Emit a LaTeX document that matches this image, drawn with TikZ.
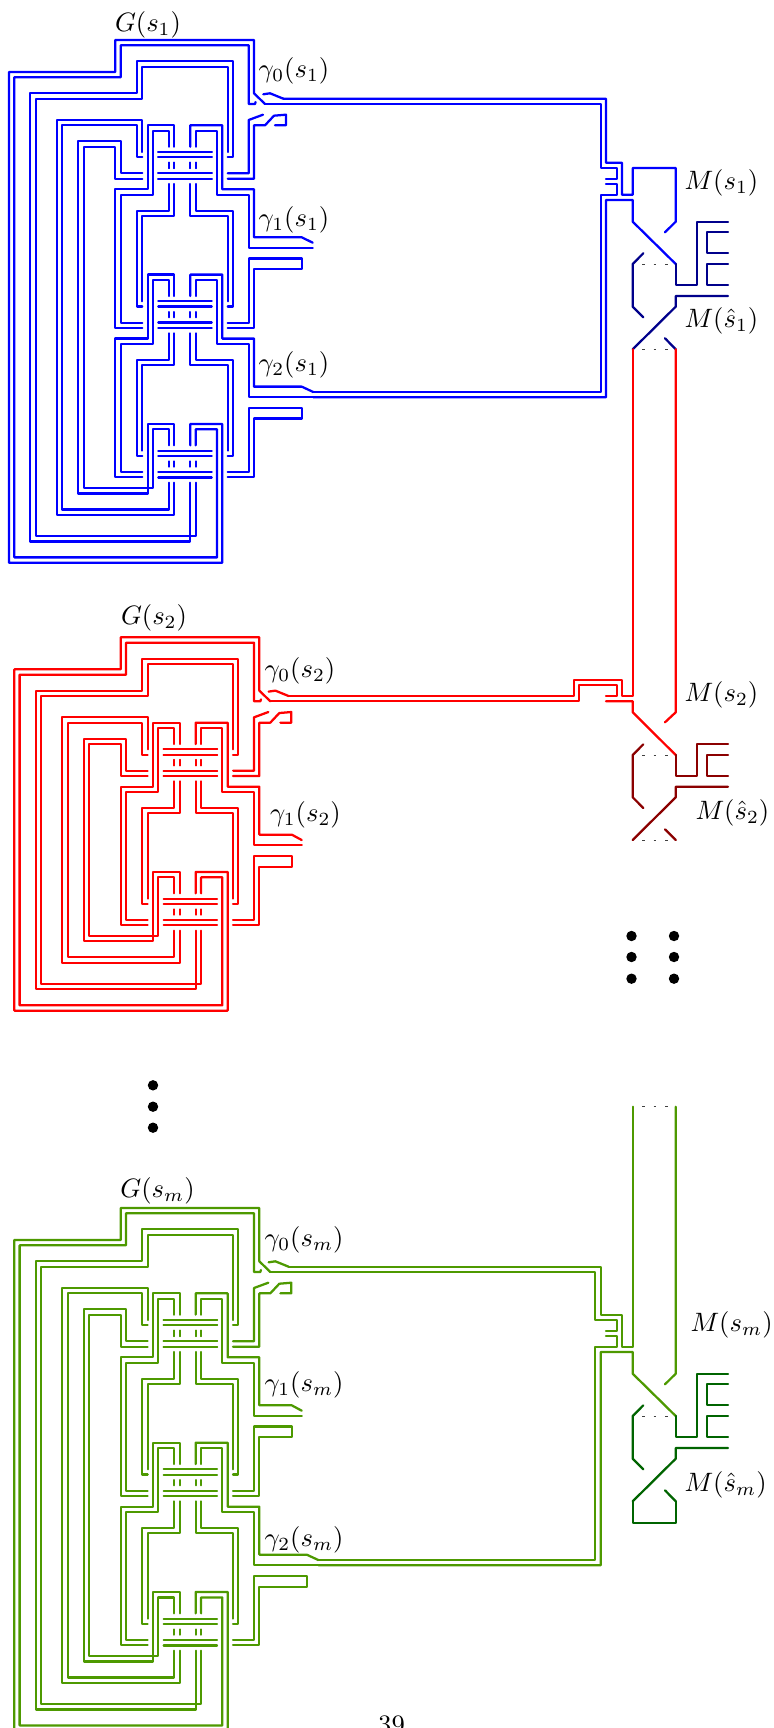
\documentclass[tikz,border=0pt]{standalone}
\definecolor{wblue}{RGB}{0,0,255}
\definecolor{wnavy}{RGB}{0,0,139}
\definecolor{wred}{RGB}{255,0,0}
\definecolor{wdred}{RGB}{139,0,0}
\definecolor{wgreen}{RGB}{77,153,0}
\definecolor{wdgreen}{RGB}{0,100,0}
\tikzset{
  wire/.style={line width=0.85pt,line join=round,line cap=round},
  wireblue/.style={wire,color=wblue},
  wirenavy/.style={wire,color=wnavy},
  wirered/.style={wire,color=wred},
  wiredred/.style={wire,color=wdred},
  wiregreen/.style={wire,color=wgreen},
  wiredgreen/.style={wire,color=wdgreen},
  dotline/.style={line width=0.3pt,color=black!75,line cap=butt,dash pattern=on 1pt off 3.4pt},
  lab/.style={anchor=west,inner sep=0pt,text=black},
  labc/.style={anchor=center,inner sep=0pt,text=black},
}
% crossbars and short dashes of one gadget
\newcommand{\cellbars}{
  \draw (158.3,152)--(211.7,152);
  \draw (158.3,157.3)--(211.7,157.3);
  \draw (158.3,173.3)--(211.7,173.3);
  \draw (158.3,178.7)--(211.7,178.7);
  \draw (169,162.7)--(169,168);
  \draw (174.3,162.7)--(174.3,168);
  \draw (190.3,162.7)--(190.3,168);
  \draw (195.7,162.7)--(195.7,168);
}
% wires from one gadget to the next; #1 kink x, #2 end x, #3 hook x
\newcommand{\cellLink}[3]{
  \cellbars
  \draw (174.3,146.7)--(174.3,125.3)--(147.7,125.3)--(147.7,189.3)--(115.3,189.3)--(115.3,328)--(142.3,328);
  \draw (169,146.7)--(169,130.7)--(153,130.7)--(153,194.7)--(120.7,194.7)--(120.7,322.7)--(142.3,322.7);
  \draw (190.3,146.7)--(190.3,125.3)--(222.3,125.3)--(222.3,189.3)--(254,189.3)--(254,237.3)--(#1,237.3)--(#2,242.7);
  \draw (195.7,146.7)--(195.7,130.7)--(217,130.7)--(217,194.7)--(248.7,194.7)--(248.7,248)--(#2,248);
  \draw (169,184)--(169,210.7)--(137,210.7)--(137,306.6)--(142.3,306.6);
  \draw (174.3,184)--(174.3,216)--(142.3,216)--(142.3,301.3);
  \draw (190.3,184)--(190.3,216)--(227.7,216)--(227.7,301.3);
  \draw (195.7,184)--(195.7,210.7)--(233,210.7)--(233,306.6)--(227.7,306.6);
  \draw (227.7,322.7)--(248.7,322.7)--(248.7,258.5)--(#3,258.5)--(#3,269.3)--(254,269.3)--(254,328)--(227.7,328);
}
% outer frames: #1 offset of the last gadget
\newcommand{\cellFrames}[1]{
  \cellbars
  \draw (174.3,146.7+#1)--(174.3,125.3+#1)--(147.7,125.3+#1)--(147.7,194.7+#1)--(78.3,194.7+#1)--(78.3,141.3)--(120.7,141.3)--(120.7,173.3)--(142.3,173.3);
  \draw (169,146.7+#1)--(169,130.7+#1)--(153,130.7+#1)--(153,189.3+#1)--(83.7,189.3+#1)--(83.7,146.7)--(115.3,146.7)--(115.3,178.7)--(142.3,178.7);
  \draw (169,184+#1)--(169,210.7+#1)--(62.3,210.7+#1)--(62.3,125.3)--(137,125.3)--(137,157.3)--(142.3,157.3);
  \draw (174.3,184+#1)--(174.3,216+#1)--(57,216+#1)--(57,120)--(142.3,120)--(142.3,152);
  \draw (190.3,184+#1)--(190.3,242.7+#1)--(30.3,242.7+#1)--(30.3,93.3)--(137,93.3)--(137,61.3)--(233,61.3)--(233,157.3)--(227.7,157.3);
  \draw (195.7,184+#1)--(195.7,237.3+#1)--(35.7,237.3+#1)--(35.7,98.7)--(142.3,98.7)--(142.3,66.7)--(227.7,66.7)--(227.7,152);
  \draw (190.3,146.7+#1)--(190.3,125.3+#1)--(222.3,125.3+#1)--(222.3,264+#1)--(9,264+#1)--(9,72)--(115.3,72)--(115.3,40)--(254,40)--(254,93.3)--(265,104);
  \draw (195.7,146.7+#1)--(195.7,130.7+#1)--(217,130.7+#1)--(217,258.7+#1)--(14.3,258.7+#1)--(14.3,77.3)--(120.7,77.3)--(120.7,45.3)--(248.7,45.3)--(248.7,104)--(255,104)--(255.6,102);
  \draw (263.3,94.3)--(270,93.3)--(283.3,98.7);
  \draw (227.7,173.3)--(248.7,173.3)--(248.7,120)--(263,114.7);
  \draw (227.7,178.7)--(254,178.7)--(254,125.3)--(265,125.3)--(274,115.7)--(286,114.7)--(286,125.3)--(275,125.3);
}
% comb of the hatted block
\newcommand{\hatblock}{
  \draw (675.7,264)--(675.7,285)--(696.7,285)--(696.7,221.7)--(728,221.7);
  \draw (728,232.3)--(707.3,232.3)--(707.3,253.3)--(728,253.3);
  \draw (728,264)--(707.3,264)--(707.3,285)--(728,285);
  \draw (728,296)--(675.7,296)--(675.7,306.7)--(632.7,349.3);
  \draw (643.3,253.3)--(632.7,264)--(632.7,306.7)--(643.3,317.3);
  \draw (665,338.3)--(675.7,349.3);
}
\begin{document}
\begin{tikzpicture}[x=0.376pt,y=-0.376pt]
\useasboundingbox (0,0) rectangle (774,1728);
\clip (0,0) rectangle (774,1728);
\fill[white] (0,0) rectangle (774,1728);

% ---------- blue set
\begin{scope}[wireblue]
  \begin{scope}\cellLink{301.7}{312.7}{302.3}\end{scope}
  \begin{scope}[shift={(0,149.33)}]\cellLink{301.7}{313.3}{302}\end{scope}
  \begin{scope}[shift={(0,298.67)}]\cellbars\end{scope}
  \cellFrames{298.67}
  \draw (283.3,98.7)--(606,98.7)--(606,162.7)--(622,162.7)--(622,194.7)--(632.7,194.7)--(632.7,168)--(675.7,168)--(675.7,221.7)--(665,232.3);
  \draw (265,104)--(600.7,104)--(600.7,168)--(617.3,168)--(617.3,178.7)--(606,178.7);
  \draw (313.3,392)--(600.7,392)--(600.7,194.7)--(617.3,194.7)--(617.3,184)--(606,184);
  \draw (313.3,397.3)--(606,397.3)--(606,200)--(632.7,200)--(632.7,221.7)--(675.7,264);
\end{scope}
\begin{scope}[wirenavy]\hatblock\end{scope}
\draw[dotline] (642,264)--(672,264);
\draw[dotline] (642,349.3)--(672,349.3);

% ---------- red set
\begin{scope}[wirered]
  \begin{scope}[shift={(5.33,597.33)}]
    \cellLink{286.4}{296.4}{286.4}
    \begin{scope}[shift={(0,149.33)}]\cellbars\end{scope}
    \cellFrames{149.33}
  \end{scope}
  \draw (632.7,349.3)--(632.7,696)--(622,696)--(622,680)--(574,680)--(574,696)--(288.6,696);
  \draw (270.3,701.3)--(579.3,701.3)--(579.3,685.3)--(617.3,685.3)--(617.3,696)--(606,696);
  \draw (606,701.3)--(632.7,701.3)--(632.7,712.3)--(675.7,755);
  \draw (675.7,349.3)--(675.7,712.3)--(665,722.3);
\end{scope}
\begin{scope}[wiredred]
  \draw (643.3,744.3)--(632.7,755)--(632.7,797.3)--(643.3,808);
  \draw (675.7,755)--(675.7,776)--(696.7,776)--(696.7,744.3)--(728,744.3);
  \draw (728,755)--(707.3,755)--(707.3,776)--(728,776);
  \draw (728,786.7)--(675.7,786.7)--(675.7,797.3)--(632.7,840);
  \draw (665,829.3)--(675.7,840);
\end{scope}
\draw[dotline] (642,755)--(672,755);
\draw[dotline] (642,840)--(672,840);

% ---------- green set
\begin{scope}[wiregreen]
  \begin{scope}[shift={(5.33,1168)}]
    \cellLink{286.4}{296.4}{287}
    \begin{scope}[shift={(0,149.33)}]\cellLink{301.4}{313}{302}\end{scope}
    \begin{scope}[shift={(0,298.67)}]\cellbars\end{scope}
    \cellFrames{298.67}
  \end{scope}
  \draw (632.7,1106.7)--(632.7,1346.7)--(622,1346.7)--(622,1314.7)--(600.7,1314.7)--(600.7,1266.7)--(288.6,1266.7);
  \draw (270.3,1272)--(595.3,1272)--(595.3,1320)--(617.3,1320)--(617.3,1330.7)--(606,1330.7);
  \draw (606,1336)--(617.3,1336)--(617.3,1346.7)--(595.3,1346.7)--(595.3,1560)--(318.6,1560);
  \draw (318.6,1565.3)--(600.7,1565.3)--(600.7,1352)--(632.7,1352)--(632.7,1373.7)--(675.7,1416);
  \draw (675.7,1106.7)--(675.7,1373.7)--(665,1384.3);
\end{scope}
\begin{scope}[wiredgreen,shift={(0,1152)}]
  \hatblock
  \draw (675.7,349.3)--(675.7,370.7)--(632.7,370.7)--(632.7,349.3);
\end{scope}
\draw[dotline] (642,1106.7)--(672,1106.7);
\draw[dotline] (642,1416)--(672,1416);

% ---------- dots
\foreach \dx in {631.5,674}{
  \foreach \dy in {936,957,978.7}{
    \fill[black] (\dx,\dy) circle[radius=5.2];
  }
}
\foreach \dy in {1085.3,1106.7,1127.7}{
  \fill[black] (153,\dy) circle[radius=5.2];
}

% ---------- labels
\node[labc] (g1) at (148,25) {$G(s_1)$};
\node[lab] (c01) at (258,71) {$\gamma_0(s_1)$};
\node[lab] (c11) at (258,220) {$\gamma_1(s_1)$};
\node[lab] (c21) at (258,365) {$\gamma_2(s_1)$};
\node[lab] (m1) at (684,183) {$M(s_1)$};
\node[lab] (mh1) at (684,321) {$M(\hat{s}_1)$};
\node[labc] (g2) at (154,618) {$G(s_2)$};
\node[lab] (c02) at (264,671) {$\gamma_0(s_2)$};
\node[lab] (c12) at (269.5,815) {$\gamma_1(s_2)$};
\node[lab] (m2) at (684,695) {$M(s_2)$};
\node[lab] (mh2) at (695,813) {$M(\hat{s}_2)$};
\node[labc] (gm) at (157.5,1191) {$G(s_m)$};
\node[lab] (c0m) at (264,1240) {$\gamma_0(s_m)$};
\node[lab] (c1m) at (264,1385) {$\gamma_1(s_m)$};
\node[lab] (c2m) at (264,1540) {$\gamma_2(s_m)$};
\node[lab] (mm) at (690,1325) {$M(s_m)$};
\node[lab] (mhm) at (684,1485) {$M(\hat{s}_m)$};
\node[labc] (page) at (391.5,1725) {39};
\end{tikzpicture}
\end{document}
